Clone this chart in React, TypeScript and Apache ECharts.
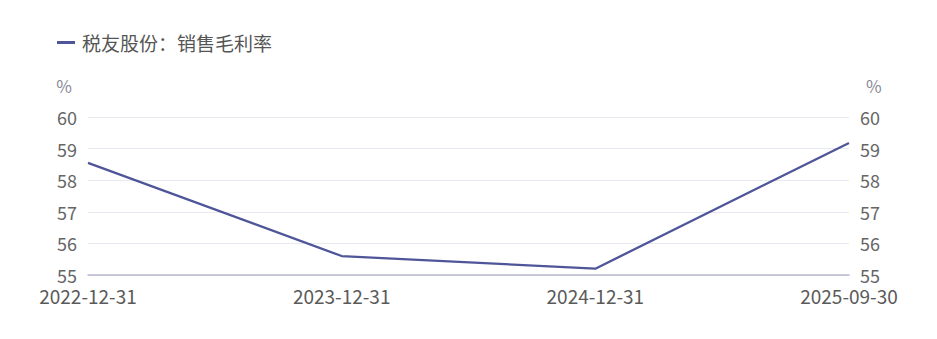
import React, { useEffect, useRef } from "react";
import * as echarts from "echarts";

const categories = ["2022-12-31", "2023-12-31", "2024-12-31", "2025-09-30"];
const grossMargin = [58.55, 55.6, 55.2, 59.18];
const seriesName = "税友股份：销售毛利率";
const unitName = "%";

export default function App() {
  const ref = useRef<HTMLDivElement>(null);
  useEffect(() => {
    if (!ref.current) return;
    const chart = echarts.init(ref.current, undefined, { renderer: "svg" });
    const font = "'Noto Sans CJK SC', 'Noto Sans', sans-serif";
    const yAxisBase = {
      type: "value" as const,
      min: 55,
      max: 60,
      interval: 1,
      name: unitName,
      nameGap: 23,
      axisLine: { show: false },
      axisTick: { show: false },
      axisLabel: { color: "#666", fontSize: 18, fontFamily: font, margin: 11 },
      splitLine: { lineStyle: { color: "#e8e8f0" } },
    };
    chart.setOption({
      animation: false,
      textStyle: { fontFamily: font },
      legend: {
        left: 52,
        top: 28,
        icon: "rect",
        itemWidth: 18,
        itemHeight: 3,
        itemGap: 8,
        textStyle: { color: "#555", fontSize: 19, fontFamily: font, padding: [0, 0, 0, 2] },
        data: [seriesName],
      },
      grid: { left: 88, right: 88, top: 117, bottom: 64 },
      xAxis: {
        type: "category",
        data: categories,
        boundaryGap: false,
        axisLine: { lineStyle: { color: "#b8b8d0", width: 1.5 } },
        axisTick: { show: false },
        axisLabel: {
          color: "#5a5a5a",
          fontSize: 19,
          fontFamily: font,
          margin: 11,
          interval: 0,
        },
      },
      yAxis: [
        {
          ...yAxisBase,
          position: "left",
          nameTextStyle: {
            color: "#8a8a99",
            fontSize: 17,
            fontFamily: font,
            align: "right",
            padding: [0, 16, 0, 0],
          },
        },
        {
          ...yAxisBase,
          position: "right",
          nameTextStyle: {
            color: "#8a8a99",
            fontSize: 17,
            fontFamily: font,
            align: "left",
            padding: [0, 0, 0, 17],
          },
        },
      ],
      series: [
        {
          name: seriesName,
          type: "line",
          data: grossMargin,
          yAxisIndex: 0,
          symbol: "none",
          lineStyle: { color: "#4e5699", width: 2.3 },
          itemStyle: { color: "#4e5699" },
        },
      ],
    });
    return () => chart.dispose();
  }, []);
  return (
    <div
      ref={ref}
      style={{ position: "absolute", left: 0, top: 0, width: 937, height: 339 }}
    />
  );
}
